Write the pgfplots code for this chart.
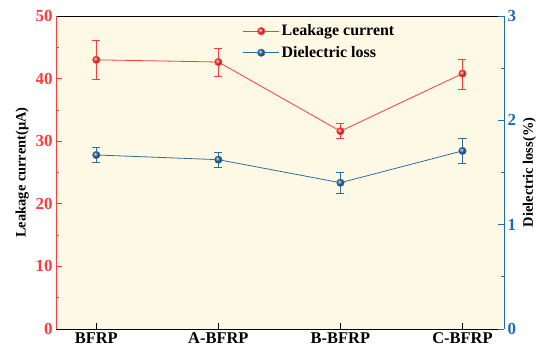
\documentclass[border=0pt]{standalone}
\usepackage{pgfplots}
\pgfplotsset{compat=1.18}
\usepackage{fontspec}
\setmainfont{Liberation Serif}
\definecolor{redc}{HTML}{FF3B3B}
\definecolor{bluec}{HTML}{2F6F9F}
\definecolor{raxis}{HTML}{1A6DB5}
\definecolor{bg}{HTML}{FDF9E4}
\begin{document}
\begin{tikzpicture}
\pgfplotsset{
  common/.style={
    scale only axis, width=448bp, height=313bp,
    xmin=-0.33, xmax=3.34,
    tick align=inside, major tick length=6bp, minor tick length=3.5bp,
    /pgf/number format/assume math mode=true,
    every tick/.style={line width=0.8pt},
    ylabel style={font=\bfseries\fontsize{14.5}{16}\selectfont, black},
  },
  ser/.style={color=#1, line width=0.8pt, mark=ball, mark size=3.6bp,
    mark options={ball color=#1},
    error bars/.cd, y dir=both, y explicit,
    error bar style={color=#1, line width=0.8pt},
    error mark options={rotate=90, mark size=4bp, line width=0.8pt, color=#1}},
}
\begin{axis}[common,
  ymin=0, ymax=50,
  axis x line*=box, axis y line*=left,
  separate axis lines,
  x axis line style={black, line width=1pt},
  y axis line style={redc, line width=1pt},
  xtick={0,1,2,3}, xticklabels={BFRP,A-BFRP,B-BFRP,C-BFRP},
  xtick pos=bottom,
  xtick style={black},
  ytick={0,10,20,30,40,50}, minor y tick num=1,
  ytick style={redc}, minor y tick style={redc},
  yticklabel style={redc, font=\bfseries\fontsize{17}{19}\selectfont},
  xticklabel style={black, font=\bfseries\fontsize{16.5}{19}\selectfont},
  axis background/.style={fill=bg},
  ylabel={Leakage current(μA)},
  legend style={at={(0.41,0.985)}, anchor=north west, draw=none, fill=none,
    font=\bfseries\fontsize{16}{18}\selectfont, row sep=5bp,
    nodes={inner sep=2bp}},
  legend cell align=left,
  legend image code/.code={\draw[mark repeat=2, mark phase=2] plot coordinates {(0bp,0bp) (18bp,0bp) (36bp,0bp)};},
]
\addplot+[ser=redc] coordinates {
  (0,43.0) += (0,3.1) -= (0,3.1)
  (1,42.65) += (0,2.2) -= (0,2.25)
  (2,31.6) += (0,1.2) -= (0,1.2)
  (3,40.8) += (0,2.3) -= (0,2.5)
};
\addlegendentry{Leakage current}
\addlegendimage{color=bluec, line width=0.8pt, mark=ball, mark size=3.6bp, mark options={ball color=bluec}}
\addlegendentry{Dielectric loss}
\end{axis}
\begin{axis}[common,
  ymin=0, ymax=3,
  axis x line=none, axis y line*=right,
  y axis line style={raxis, line width=1pt},
  ytick={0,1,2,3}, minor y tick num=1,
  ytick style={raxis}, minor y tick style={raxis},
  yticklabel style={raxis, font=\bfseries\fontsize{17}{19}\selectfont},
  ylabel={Dielectric loss(\%)},
]
\addplot+[ser=bluec] coordinates {
  (0,1.668) += (0,0.07) -= (0,0.074)
  (1,1.623) += (0,0.067) -= (0,0.07)
  (2,1.402) += (0,0.10) -= (0,0.10)
  (3,1.707) += (0,0.123) -= (0,0.117)
};
\end{axis}
\path ([shift={(-56bp,-31bp)}]current axis.south west) rectangle ([shift={(46bp,16bp)}]current axis.north east);
\end{tikzpicture}
\end{document}
